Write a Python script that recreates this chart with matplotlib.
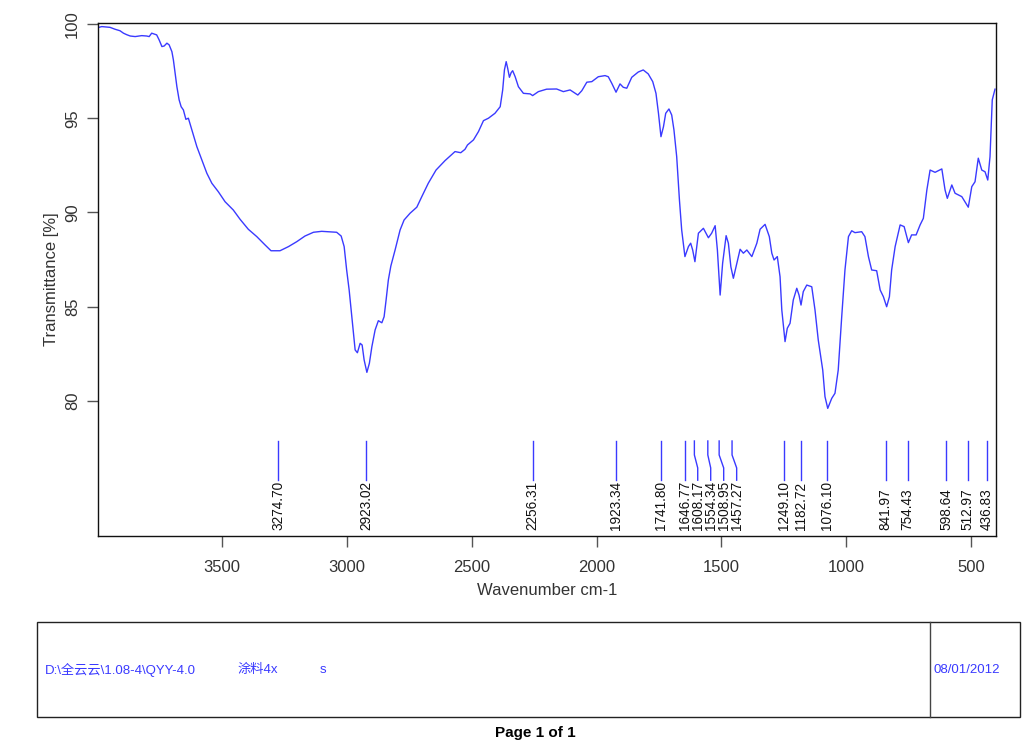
import matplotlib
matplotlib.use("Agg")
import matplotlib.pyplot as plt
from matplotlib.patches import Rectangle
import numpy as np

plt.rcParams['font.family'] = ['Liberation Sans', 'Noto Sans CJK SC', 'DejaVu Sans']

# spectrum (wavenumber cm-1, transmittance %)
wavenumber = [3993, 3982, 3949, 3929, 3909, 3895, 3882, 3868, 3848, 3822,
              3802, 3792, 3782, 3762, 3752, 3741, 3732, 3721, 3712, 3701,
              3695, 3688, 3681, 3672, 3664, 3655, 3645, 3635, 3621, 3601,
              3581, 3561, 3541, 3515, 3488, 3455, 3428, 3395, 3361, 3328,
              3304, 3268, 3234, 3201, 3168, 3134, 3101, 3074, 3041, 3023,
              3011, 3001, 2991, 2983, 2974, 2967, 2958, 2947, 2939, 2931,
              2920, 2910, 2900, 2887, 2874, 2860, 2851, 2843, 2834, 2824,
              2807, 2787, 2771, 2747, 2720, 2700, 2674, 2643, 2607, 2567,
              2544, 2527, 2517, 2493, 2473, 2453, 2433, 2407, 2386, 2376,
              2369, 2362, 2356, 2349, 2342, 2336, 2326, 2313, 2293, 2266,
              2256, 2233, 2200, 2160, 2133, 2106, 2075, 2059, 2039, 2019,
              1993, 1966, 1953, 1939, 1922, 1906, 1893, 1879, 1859, 1833,
              1813, 1793, 1775, 1762, 1752, 1742, 1732, 1723, 1710, 1699,
              1690, 1679, 1668, 1659, 1646, 1632, 1623, 1615, 1606, 1592,
              1572, 1552, 1539, 1525, 1516, 1505, 1495, 1481, 1472, 1462,
              1452, 1438, 1425, 1412, 1398, 1378, 1358, 1345, 1325, 1308,
              1298, 1289, 1276, 1265, 1258, 1245, 1236, 1225, 1212, 1198,
              1189, 1181, 1172, 1158, 1138, 1125, 1112, 1094, 1085, 1074,
              1058, 1045, 1032, 1018, 1005, 991, 978, 965, 938, 925,
              911, 898, 878, 864, 851, 838, 827, 818, 804, 784,
              768, 751, 738, 720, 704, 691, 677, 664, 644, 617,
              604, 595, 577, 564, 537, 511, 497, 484, 471, 457,
              444, 433, 424, 415, 404]
transmittance = [99.82, 99.86, 99.82, 99.72, 99.64, 99.51, 99.43, 99.36, 99.33, 99.38,
                 99.36, 99.33, 99.51, 99.42, 99.15, 98.80, 98.83, 98.98, 98.89, 98.53,
                 98.09, 97.38, 96.67, 95.97, 95.61, 95.44, 94.94, 95.00, 94.38, 93.49,
                 92.79, 92.08, 91.55, 91.10, 90.57, 90.13, 89.64, 89.11, 88.72, 88.28,
                 87.97, 87.97, 88.19, 88.45, 88.75, 88.95, 89.00, 88.98, 88.95, 88.75,
                 88.19, 86.95, 85.89, 84.83, 83.59, 82.71, 82.56, 83.06, 82.97, 82.18,
                 81.52, 82.00, 82.88, 83.77, 84.26, 84.15, 84.47, 85.36, 86.42, 87.16,
                 88.01, 89.07, 89.60, 89.96, 90.28, 90.84, 91.55, 92.25, 92.75, 93.23,
                 93.17, 93.35, 93.58, 93.85, 94.29, 94.87, 95.00, 95.26, 95.61, 96.50,
                 97.56, 98.00, 97.65, 97.17, 97.42, 97.52, 97.20, 96.67, 96.32, 96.29,
                 96.20, 96.41, 96.54, 96.55, 96.41, 96.50, 96.23, 96.46, 96.91, 96.94,
                 97.20, 97.26, 97.20, 96.85, 96.38, 96.82, 96.64, 96.59, 97.17, 97.45,
                 97.56, 97.35, 96.94, 96.32, 95.26, 94.02, 94.55, 95.26, 95.49, 95.17,
                 94.38, 92.96, 90.66, 89.07, 87.66, 88.19, 88.37, 88.01, 87.39, 88.90,
                 89.16, 88.66, 88.90, 89.30, 88.01, 85.62, 87.31, 88.77, 88.37, 87.12,
                 86.51, 87.31, 88.05, 87.84, 88.01, 87.66, 88.37, 89.11, 89.37, 88.72,
                 87.84, 87.48, 87.66, 86.59, 84.83, 83.15, 83.86, 84.12, 85.36, 85.98,
                 85.62, 85.09, 85.80, 86.15, 86.06, 84.83, 83.24, 81.64, 80.23, 79.61,
                 80.14, 80.41, 81.64, 84.47, 86.95, 88.72, 89.03, 88.93, 88.98, 88.72,
                 87.66, 86.95, 86.91, 85.89, 85.53, 85.00, 85.53, 86.95, 88.19, 89.34,
                 89.25, 88.40, 88.81, 88.81, 89.34, 89.69, 91.19, 92.25, 92.13, 92.31,
                 91.19, 90.75, 91.46, 91.02, 90.84, 90.28, 91.37, 91.63, 92.88, 92.25,
                 92.16, 91.72, 92.96, 95.97, 96.54]

peaks = [3274.70, 2923.02, 2256.31, 1923.34, 1741.80, 1646.77, 1608.17, 1554.34,
         1508.95, 1457.27, 1249.10, 1182.72, 1076.10, 841.97, 754.43, 598.64,
         512.97, 436.83]

xticks = [3500, 3000, 2500, 2000, 1500, 1000, 500]
yticks = [80, 85, 90, 95, 100]

footer_file = "D:\\全云云\\1.08-4\\QYY-4.0"
footer_name = "涂料4x"
footer_s = "s"
footer_date = "08/01/2012"

BLUE = '#3a3aff'
GREY = '#333333'

fig = plt.figure(figsize=(10.24, 7.42), dpi=100)
ax = fig.add_axes([98/1024, 1-536/742, 898/1024, 513/742])

ax.plot(wavenumber, transmittance, color=BLUE, lw=1.0)
ax.set_xlim(3997, 400)
ax.set_ylim(72.84, 100.05)

# peak markers, labels pushed apart when they crowd
gap = 52
lab_x = []
for p in peaks:
    if lab_x and lab_x[-1] - p < gap:
        lab_x.append(lab_x[-1] - gap)
    else:
        lab_x.append(p)
for p, lx in zip(peaks, lab_x):
    ax.plot([p, p, lx, lx], [77.88, 77.14, 76.45, 75.8], color=BLUE, lw=1.0)
    ax.text(lx, 73.16, f"{p:.2f}", rotation=90, ha='center', va='bottom',
            fontsize=9.8, color='#111111')

ax.set_xticks(xticks)
ax.set_yticks(yticks)
ax.tick_params(direction='out', length=8, width=1, colors='#555555',
               labelcolor=GREY, labelsize=12)
ax.tick_params(axis='x', pad=9)
ax.tick_params(axis='y', pad=5)
plt.setp(ax.get_yticklabels(), rotation=90, va='center')
for s in ax.spines.values():
    s.set_linewidth(1.0)
    s.set_color('#111111')
ax.set_ylabel("Transmittance [%]", fontsize=12, color=GREY, labelpad=4)
ax.set_xlabel("Wavenumber cm-1", fontsize=12, color=GREY, labelpad=6)

# footer box
fig.add_artist(Rectangle((37/1024, 1-717/742), 983/1024, 95/742,
                         transform=fig.transFigure, fill=False,
                         edgecolor='#222222', lw=1.0))
fig.add_artist(plt.Line2D([930/1024, 930/1024], [1-717/742, 1-622/742],
                          transform=fig.transFigure, color='#444444', lw=1.0))
ty = 1 - 670/742
fig.text(45/1024, ty, footer_file, fontsize=9.5, color=BLUE, va='center')
fig.text(238/1024, ty, footer_name, fontsize=9.5, color=BLUE, va='center')
fig.text(320/1024, ty, footer_s, fontsize=9.5, color=BLUE, va='center')
fig.text(933/1024, ty, footer_date, fontsize=9.5, color=BLUE, va='center')
fig.text(535/1024, 1-733/742, "Page 1 of 1", fontsize=11, fontweight='bold',
         ha='center', va='center')

fig.savefig("out.png", dpi=100)
